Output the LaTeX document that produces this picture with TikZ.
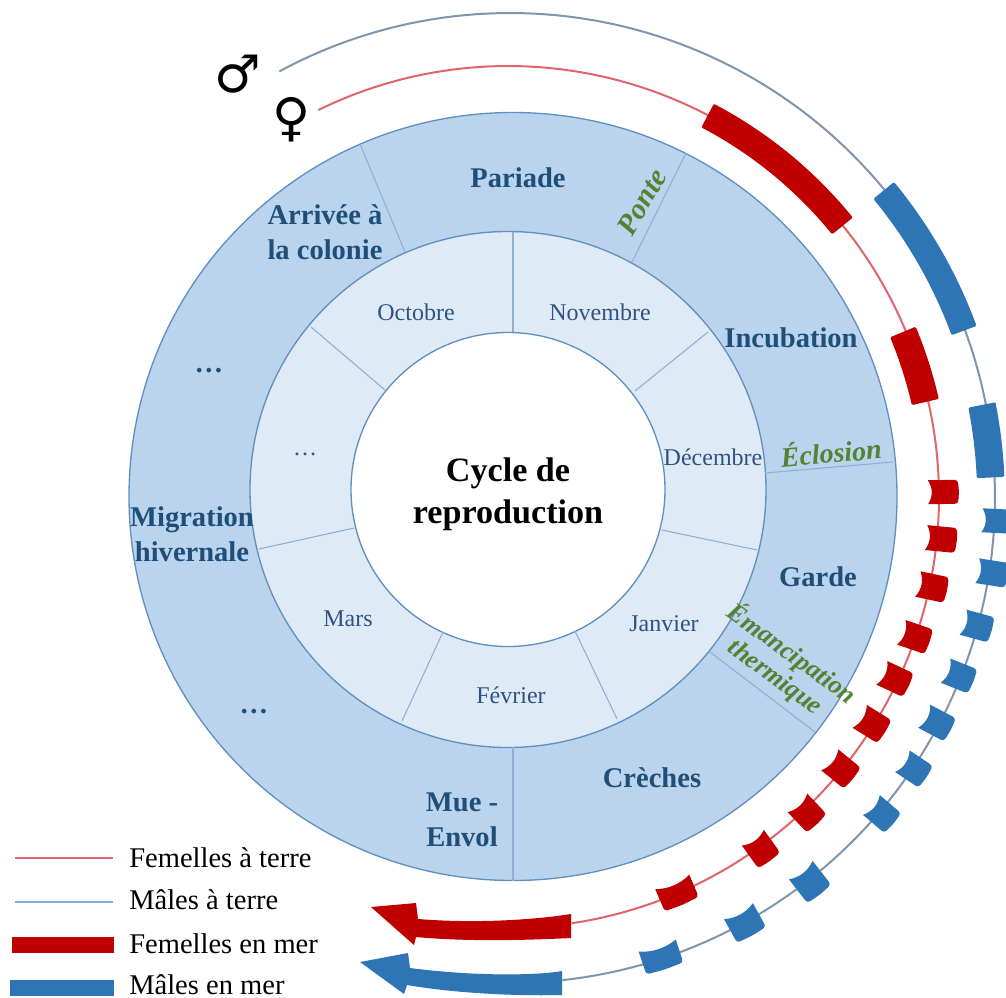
\documentclass[tikz,border=0pt]{standalone}
\usepackage{fontspec}
\setmainfont{Liberation Serif}
\newfontfamily\symfont{DejaVu Sans}
\definecolor{ringout}{HTML}{BAD4ED}
\definecolor{ringmid}{HTML}{DEEAF6}
\definecolor{ringedge}{HTML}{5F90C0}
\definecolor{divider}{HTML}{8FB0D4}
\definecolor{phase}{HTML}{1F4E79}
\definecolor{month}{HTML}{2F5282}
\definecolor{event}{HTML}{548235}
\definecolor{seared}{HTML}{C00000}
\definecolor{seablue}{HTML}{2E75B6}
\definecolor{landred}{HTML}{E0646A}
\definecolor{landblue}{HTML}{7D95AE}
\definecolor{legendblue}{HTML}{7FB0DC}
\tikzset{
  phaselabel/.style={font=\bfseries\fontsize{21.4}{26.5}\selectfont,text=phase,align=center,inner sep=0pt},
  monthlabel/.style={font=\fontsize{18}{22}\selectfont,text=month,inner sep=0pt},
  eventlabel/.style={font=\bfseries\itshape\fontsize{21}{26}\selectfont,text=event,align=center,inner sep=0pt},
  legendlabel/.style={font=\fontsize{21.4}{26}\selectfont,anchor=west,inner sep=0pt},
  sectorline/.style={draw=divider,line width=0.8pt},
  ringline/.style={draw=ringedge,line width=1pt},
}
% thick arc piece: centre, radius, angles, width, colour
\newcommand{\thickarc}[7]{%
  \draw[#7,fill=#7,line width=2pt,line join=round]
    plot[domain=#4:#5,samples=40] ({#1+(#3+#6/2)*cos(\x)},{#2-(#3+#6/2)*sin(\x)})
    -- plot[domain=#5:#4,samples=40] ({#1+(#3-#6/2)*cos(\x)},{#2-(#3-#6/2)*sin(\x)})
    -- cycle;}
% small block at (x,y) around centre (cx,cy): half tangent length h, radial width w
\newcommand{\flagblock}[7]{%
  \pgfmathsetmacro{\ang}{atan2(#4-#2,#1-#3)}
  \pgfmathsetmacro{\hh}{#5}
  \pgfmathsetmacro{\ww}{#6/2}
  \begin{scope}[shift={(#1,#2)},rotate=\ang]
    \fill[#7]
      (-\ww,\hh) .. controls ({-\ww+5},{\hh/3}) and ({-\ww+5},{-\hh/3}) .. (-\ww,-\hh)
      [rounded corners=2.5pt] -- (\ww,-\hh) -- ({\ww+1},0) -- (\ww,\hh) [sharp corners] -- cycle;
  \end{scope}}
\begin{document}
\begin{tikzpicture}[x=0.75pt,y=-0.75pt]
\useasboundingbox (0,0) rectangle (1006,997);
% rings
\fill[ringout] (513,496.5) circle[radius=288pt];
\draw[ringline] (513,496.5) circle[radius=288pt];
\fill[ringmid] (508,489.5) circle[radius=193.5pt];
\draw[ringline] (508,489.5) circle[radius=193.5pt];
\fill[white] (508,489.5) circle[radius=117.75pt];
\draw[ringline] (508,489.5) circle[radius=117.75pt];
% dividers, outer ring
\draw[sectorline] (360,144) -- (405,252);
\draw[sectorline] (686,153) -- (632,262);
\draw[sectorline] (765,473) -- (893,462);
\draw[sectorline] (710,652) -- (815,732);
\draw[sectorline] (513,747) -- (513,881);
% dividers, middle ring
\draw[sectorline] (513,232) -- (513,332);
\draw[sectorline] (708,332) -- (635,391);
\draw[sectorline] (757,550) -- (662,530);
\draw[sectorline] (575,631) -- (617,719);
\draw[sectorline] (443,632) -- (402,721);
\draw[sectorline] (354,528) -- (259,549);
\draw[sectorline] (385,390) -- (311,327);
% land lines
\draw[landblue,line width=1.5pt] plot[domain=118.4:-83.8,samples=150] ({510+485*cos(\x)},{498-485*sin(\x)});
\draw[landred,line width=1.5pt] plot[domain=116.1:-81.5,samples=150] ({508+431*cos(\x)},{497-431*sin(\x)});
% female at sea
\thickarc{508}{497}{430.5}{62.2}{39.2}{24}{seared}
\thickarc{508}{497}{428}{22.5}{13}{25}{seared}
\foreach \px/\py/\h/\w in {943/492/12/30,941/539/12.5/30,932/587/13/29,915/637/13/29,895/679/13/29,872/724/13.5/29,841/769/13.5/29,807/813/13.5/28,761/849/13.5/28,677/893/18.5/24}
  {\flagblock{\px}{\py}{508}{497}{\h}{\w}{seared}}
% male at sea
\thickarc{510}{498}{484}{39.3}{20.4}{24}{seablue}
\thickarc{510}{498}{481}{11}{2.6}{25}{seablue}
\foreach \px/\py/\h/\w in {997/521/12/30,992/573/12.5/30,977/626/13/29,959/676/13/29,937/723/13/29,914/769/13/28,882/814/13/28,810/882/15/30,745/923/16.5/27,661/957/19.5/24}
  {\flagblock{\px}{\py}{510}{498}{\h}{\w}{seablue}}
% arrows
\fill[seared] (571,914) .. controls (540,919) and (480,924) .. (418,919) -- (416,903) -- (371,907) -- (414,945)
  -- (416,937) .. controls (470,942) and (530,940) .. (571,938) -- cycle;
\fill[seablue] (562,971) .. controls (540,975) and (480,977) .. (410,968) -- (408,953) -- (360,962) -- (404,994)
  -- (407,985) .. controls (460,994) and (520,996) .. (562,995) -- cycle;
% texts
\node[font=\bfseries\fontsize{25.6}{31.5}\selectfont,align=center,inner sep=0pt] (title) at (508,494) {Cycle de\\reproduction};
\node[phaselabel] (pariade) at (518,178) {Pariade};
\node[phaselabel] (arrivee) at (325,232) {Arrivée à\\la colonie};
\node[phaselabel] (incub) at (791,338) {Incubation};
\node[phaselabel] (garde) at (818,577) {Garde};
\node[phaselabel] (creches) at (652,778) {Crèches};
\node[phaselabel] (mue) at (462,820) {Mue -\\Envol};
\node[phaselabel] (migr) at (192,534) {Migration\\hivernale};
\node[phaselabel] (dots1) at (209,371) {…};
\node[phaselabel] (dots2) at (254,712) {…};
\node[monthlabel] (oct) at (416,312) {Octobre};
\node[monthlabel] (nov) at (600,312) {Novembre};
\node[monthlabel] (dec) at (713,457) {Décembre};
\node[monthlabel] (jan) at (664,624) {Janvier};
\node[monthlabel] (fev) at (511,695) {Février};
\node[monthlabel] (mar) at (348,619) {Mars};
\node[monthlabel] (dots3) at (305,454) {…};
\node[eventlabel,font=\bfseries\itshape\fontsize{22}{26}\selectfont,rotate=60] (ponte) at (642,202) {Ponte};
\node[eventlabel] (eclo) at (831,451) [rotate=5] {Éclosion};
\node[eventlabel,font=\bfseries\itshape\fontsize{19.5}{21}\selectfont,rotate=-36] (emanc) at (784,665) {Émancipation\\thermique};
% sex symbols
\node[font=\symfont\fontsize{39}{39}\selectfont,inner sep=0pt] (male) at (238,74) {♂};
\node[font=\symfont\fontsize{39}{39}\selectfont,inner sep=0pt] (female) at (292,120) {♀};
% legend
\coordinate (l1a) at (15,858); \coordinate (l1b) at (113,858);
\coordinate (l2a) at (15,902); \coordinate (l2b) at (113,902);
\draw[landred,line width=1.2pt] (l1a) -- (l1b);
\draw[legendblue,line width=1.2pt] (l2a) -- (l2b);
\fill[seared] (12,937) rectangle (114,953);
\fill[seablue] (10,980) rectangle (114,996);
\node[legendlabel] (lg1) at (129,858) {Femelles à terre};
\node[legendlabel] (lg2) at (129,900) {Mâles à terre};
\node[legendlabel] (lg3) at (129,944) {Femelles en mer};
\node[legendlabel] (lg4) at (129,985) {Mâles en mer};
\end{tikzpicture}
\end{document}
